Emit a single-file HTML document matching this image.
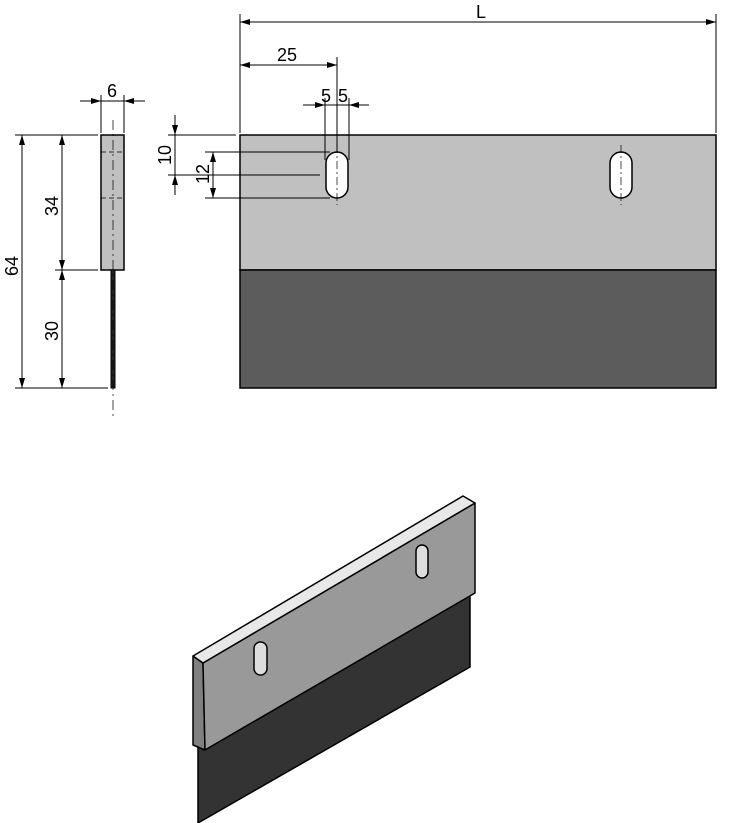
<!DOCTYPE html>
<html><head><style>body{margin:0;background:#fff}svg{display:block}text{font-family:"Liberation Sans",sans-serif;font-size:18px;fill:#000}</style></head>
<body>
<svg width="729" height="823" viewBox="0 0 729 823" xmlns="http://www.w3.org/2000/svg">
<defs>
<marker id="a" viewBox="0 0 10 6" refX="10" refY="3" markerWidth="10" markerHeight="6" orient="auto-start-reverse" markerUnits="userSpaceOnUse"><path d="M0,0 L10,3 L0,6z" fill="#000"/></marker>
</defs>
<g stroke="#000" stroke-width="1" fill="none">
<rect x="240" y="135" width="476" height="135" fill="#c0c0c0" stroke-width="1.5"/>
<rect x="240" y="270" width="476" height="118" fill="#5c5c5c" stroke-width="1.5"/>
<rect x="326" y="152" width="22" height="46" rx="11" fill="#fff" stroke-width="1.5"/>
<rect x="610" y="152" width="22" height="46" rx="11" fill="#fff" stroke-width="1.5"/>
<line x1="337" y1="145" x2="337" y2="205" stroke-dasharray="8,3,2,3" stroke-width="0.7"/>
<line x1="621" y1="145" x2="621" y2="205" stroke-dasharray="8,3,2,3" stroke-width="0.7"/>
<line x1="240" y1="14" x2="240" y2="133"/><line x1="716" y1="14" x2="716" y2="133"/>
<line x1="240" y1="22" x2="716" y2="22" marker-start="url(#a)" marker-end="url(#a)"/>
<line x1="337" y1="57" x2="337" y2="152"/>
<line x1="240" y1="65" x2="337" y2="65" marker-start="url(#a)" marker-end="url(#a)"/>
<line x1="325" y1="98" x2="325" y2="160"/><line x1="349" y1="98" x2="349" y2="160"/>
<line x1="303" y1="105" x2="325" y2="105" marker-end="url(#a)"/>
<line x1="369" y1="105" x2="349" y2="105" marker-end="url(#a)"/>
<line x1="325" y1="105" x2="349" y2="105"/>
<line x1="168" y1="135" x2="236" y2="135"/>
<line x1="168" y1="175" x2="320" y2="175"/>
<line x1="205" y1="152" x2="330" y2="152"/>
<line x1="205" y1="198" x2="330" y2="198"/>
<line x1="175" y1="115" x2="175" y2="135" marker-end="url(#a)"/>
<line x1="175" y1="195" x2="175" y2="175" marker-end="url(#a)"/>
<line x1="175" y1="135" x2="175" y2="175"/>
<line x1="213" y1="152" x2="213" y2="198" marker-start="url(#a)" marker-end="url(#a)"/>
<rect x="101" y="135" width="23" height="135" fill="#c0c0c0" stroke-width="1.5"/>
<rect x="111" y="270" width="4" height="118" fill="#222" stroke-width="1"/>
<line x1="113" y1="120" x2="113" y2="420" stroke-dasharray="10,4,2,4" stroke-width="0.7"/>
<line x1="101" y1="152" x2="124" y2="152" stroke-dasharray="5,3" stroke-width="0.7"/>
<line x1="101" y1="198" x2="124" y2="198" stroke-dasharray="5,3" stroke-width="0.7"/>
<line x1="101" y1="95" x2="101" y2="133"/><line x1="124" y1="95" x2="124" y2="133"/>
<line x1="80" y1="101" x2="101" y2="101" marker-end="url(#a)"/>
<line x1="145" y1="101" x2="124" y2="101" marker-end="url(#a)"/>
<line x1="101" y1="101" x2="124" y2="101"/>
<line x1="15" y1="135" x2="98" y2="135"/>
<line x1="55" y1="270" x2="98" y2="270"/>
<line x1="15" y1="388" x2="108" y2="388"/>
<line x1="22" y1="135" x2="22" y2="388" marker-start="url(#a)" marker-end="url(#a)"/>
<line x1="62" y1="135" x2="62" y2="270" marker-start="url(#a)" marker-end="url(#a)"/>
<line x1="62" y1="270" x2="62" y2="388" marker-start="url(#a)" marker-end="url(#a)"/>
</g>
<text x="476" y="18">L</text>
<text x="277" y="61">25</text>
<text x="321" y="102">5</text>
<text x="338" y="102">5</text>
<text x="107" y="97">6</text>
<text transform="translate(171,165) rotate(-90)">10</text>
<text transform="translate(209,184) rotate(-90)">12</text>
<text transform="translate(18,276) rotate(-90)">64</text>
<text transform="translate(58,216) rotate(-90)">34</text>
<text transform="translate(58,341) rotate(-90)">30</text>
<g stroke="#000" stroke-width="1.5" stroke-linejoin="round">
<polygon points="198,747 470,595 470,667 198,823" fill="#333"/>
<polygon points="193,656 203,663 205,750 193,745" fill="#808080"/>
<polygon points="203,663 475,503 475,593 205,750" fill="#999"/>
<polygon points="193,656 463,496 475,503 203,663" fill="#e8e8e8"/>
<rect x="254" y="642" width="13" height="33" rx="6.5" fill="#ddd"/>
<rect x="416" y="545" width="12" height="33" rx="6" fill="#ddd"/>
</g>
</svg>
</body></html>
